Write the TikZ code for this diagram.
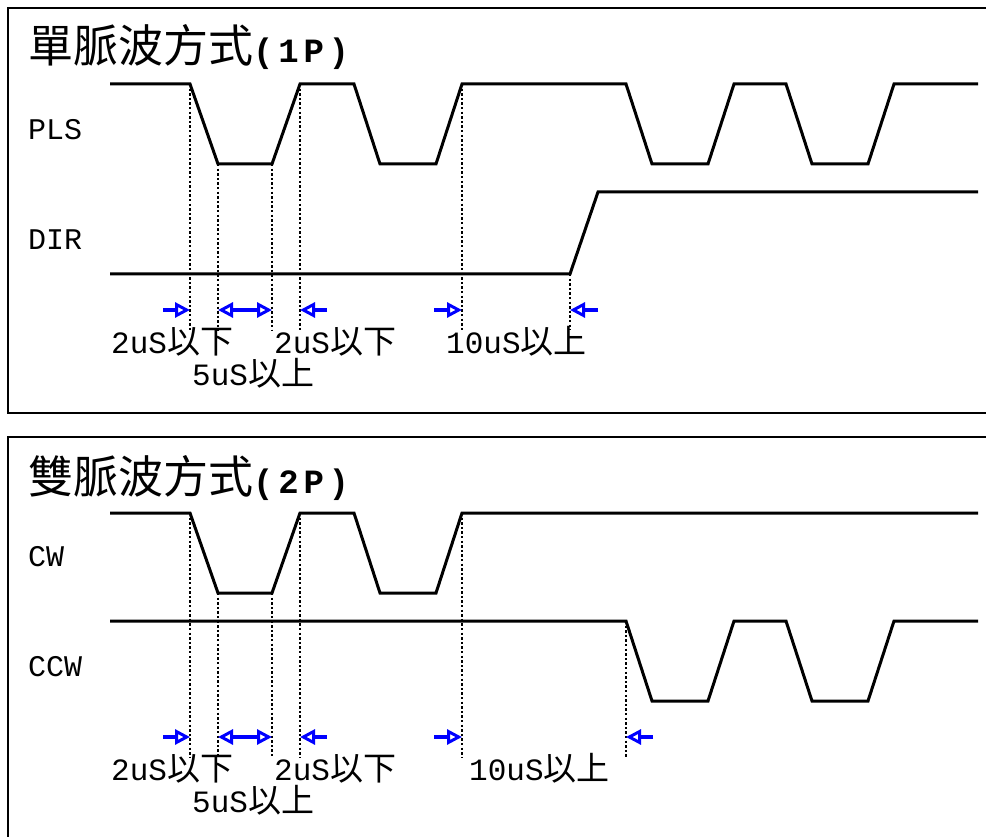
\documentclass[tikz,border=0pt]{standalone}
\usepackage{fontspec}
\setmainfont{Liberation Mono}
\newfontfamily\cjk{Noto Sans CJK TC}
\usetikzlibrary{arrows.meta}
\tikzset{
  frame/.style={line width=2pt},
  sig/.style={line width=3pt, line join=miter},
  guide/.style={line width=2.8pt, dash pattern=on 2.4pt off 2.2pt},
  tipo/.tip={Triangle[open,length=15pt,width=15pt,line width=3pt]},
  dimarrow/.style={blue, line width=3.3pt, -tipo},
  dimboth/.style={blue, line width=3.3pt, tipo-tipo},
  lbl/.style={inner sep=0pt, anchor=west, font=\fontsize{30}{30}\selectfont},
  tlbl/.style={inner sep=0pt, anchor=base west, text height=21pt, text depth=2pt},
  ttl/.style={inner sep=0pt, anchor=base west},
}
\newcommand{\tl}[2]{{\fontsize{31}{31}\selectfont #1}{\cjk\fontsize{33}{33}\selectfont #2}}
\newcommand{\ttitle}[2]{{\cjk\fontsize{45}{45}\selectfont #1}{\fontsize{34}{34}\selectfont\bfseries\addfontfeatures{LetterSpace=14}#2}}
\begin{document}
\begin{tikzpicture}[x=1pt,y=-1pt]
\useasboundingbox (0,0) rectangle (986,837);
% frames
\draw[frame] (1000,8) -- (8,8) -- (8,413) -- (1000,413);
\draw[frame] (1000,437) -- (8,437) -- (8,860);

% ---------- top panel ----------
\node[ttl] (t1) at (28,63) {\ttitle{單脈波方式}{(1P)}};
\node[lbl] (pls) at (28,130) {PLS};
\node[lbl] (dir) at (28,240) {DIR};

\draw[sig] (110,84) -- (190,84) -- (218,164) -- (272,164) -- (300,84) -- (354,84)
  -- (380,164) -- (436,164) -- (462,84) -- (626,84) -- (652,164) -- (708,164)
  -- (734,84) -- (786,84) -- (812,164) -- (868,164) -- (894,84) -- (978,84);
\draw[sig] (110,274) -- (570,274) -- (598,192) -- (978,192);

\foreach \x/\y in {190/84, 218/164, 272/164, 300/84, 462/84, 570/274}
  \draw[guide] (\x,\y) -- (\x,330);

\coordinate (a1s) at (163,310); \coordinate (a1e) at (190,310);
\coordinate (a2s) at (218,310); \coordinate (a2e) at (272,310);
\coordinate (a3s) at (327,310); \coordinate (a3e) at (300,310);
\coordinate (a4s) at (434,310); \coordinate (a4e) at (462,310);
\coordinate (a5s) at (598,310); \coordinate (a5e) at (570,310);
\draw[dimarrow] (a1s) -- (a1e);
\draw[dimboth] (a2s) -- (a2e);
\draw[dimarrow] (a3s) -- (a3e);
\draw[dimarrow] (a4s) -- (a4e);
\draw[dimarrow] (a5s) -- (a5e);

\node[tlbl] (l1) at (111,353) {\tl{2uS}{以下}};
\node[tlbl] (l2) at (192,385) {\tl{5uS}{以上}};
\node[tlbl] (l3) at (274,353) {\tl{2uS}{以下}};
\node[tlbl] (l4) at (446,353) {\tl{10uS}{以上}};

% ---------- bottom panel ----------
\node[ttl] (t2) at (28,493) {\ttitle{雙脈波方式}{(2P)}};
\node[lbl] (cw) at (28,557) {CW};
\node[lbl] (ccw) at (28,667) {CCW};

\draw[sig] (110,513) -- (190,513) -- (218,593) -- (272,593) -- (300,513) -- (354,513)
  -- (380,593) -- (436,593) -- (462,513) -- (978,513);
\draw[sig] (110,621) -- (626,621) -- (652,701) -- (708,701) -- (734,621) -- (786,621)
  -- (812,701) -- (868,701) -- (894,621) -- (978,621);

\foreach \x/\y in {190/513, 218/593, 272/593, 300/513, 462/513, 626/621}
  \draw[guide] (\x,\y) -- (\x,757);

\coordinate (b1s) at (163,737); \coordinate (b1e) at (190,737);
\coordinate (b2s) at (218,737); \coordinate (b2e) at (272,737);
\coordinate (b3s) at (327,737); \coordinate (b3e) at (300,737);
\coordinate (b4s) at (434,737); \coordinate (b4e) at (462,737);
\coordinate (b5s) at (653,737); \coordinate (b5e) at (626,737);
\draw[dimarrow] (b1s) -- (b1e);
\draw[dimboth] (b2s) -- (b2e);
\draw[dimarrow] (b3s) -- (b3e);
\draw[dimarrow] (b4s) -- (b4e);
\draw[dimarrow] (b5s) -- (b5e);

\node[tlbl] (m1) at (111,780) {\tl{2uS}{以下}};
\node[tlbl] (m2) at (192,812) {\tl{5uS}{以上}};
\node[tlbl] (m3) at (274,780) {\tl{2uS}{以下}};
\node[tlbl] (m4) at (469,780) {\tl{10uS}{以上}};
\end{tikzpicture}
\end{document}
